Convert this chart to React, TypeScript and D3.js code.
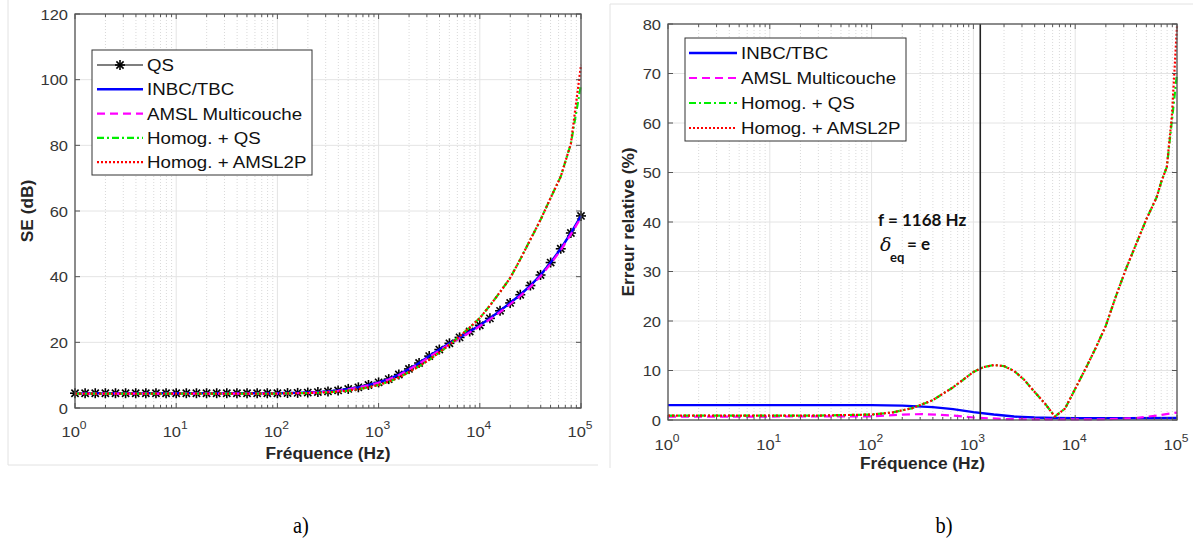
import React from 'react';
import * as d3 from 'd3';

// ---------- DATA ----------
const SE_FREQ = [
  1, 1.259, 1.585, 1.995, 2.512, 3.162, 3.981, 5.012, 6.31, 7.943,
  10, 12.59, 15.85, 19.95, 25.12, 31.62, 39.81, 50.12, 63.1, 79.43,
  100, 125.9, 158.5, 199.5, 251.2, 316.2, 398.1, 501.2, 631, 794.3,
  1000, 1259, 1585, 1995, 2512, 3162, 3981, 5012, 6310, 7943,
  10000, 12589, 15849, 19953, 25119, 31623, 39811, 50119, 63096, 79433, 100000,
];
const SE_QS = [
  4.5, 4.5, 4.5, 4.5, 4.5, 4.5, 4.5, 4.5, 4.5, 4.5,
  4.5, 4.5, 4.5, 4.5, 4.5, 4.5, 4.5, 4.5, 4.5, 4.5,
  4.5, 4.55, 4.6, 4.7, 4.85, 5.05, 5.35, 5.8, 6.3, 7.0,
  7.8, 8.8, 10.2, 11.9, 13.7, 15.8, 17.8, 19.7, 21.5, 23.3,
  25.2, 27.3, 29.6, 32.0, 34.5, 37.3, 40.5, 44.3, 48.5, 53.3, 58.5,
];
const SE_INBC = [
  4.5, 4.5, 4.5, 4.5, 4.5, 4.5, 4.5, 4.5, 4.5, 4.5,
  4.5, 4.5, 4.5, 4.5, 4.5, 4.5, 4.5, 4.5, 4.5, 4.5,
  4.5, 4.55, 4.6, 4.7, 4.85, 5.05, 5.35, 5.8, 6.3, 7.0,
  7.8, 8.8, 10.2, 11.9, 13.7, 15.8, 17.8, 19.7, 21.5, 23.3,
  25.2, 27.3, 29.6, 32.0, 34.5, 37.3, 40.5, 44.3, 48.5, 53.3, 58.5,
];
const SE_AMSL = [
  4.4, 4.4, 4.4, 4.4, 4.4, 4.4, 4.4, 4.4, 4.4, 4.4,
  4.4, 4.4, 4.4, 4.4, 4.4, 4.4, 4.4, 4.4, 4.4, 4.4,
  4.4, 4.45, 4.5, 4.6, 4.75, 4.95, 5.25, 5.7, 6.2, 6.9,
  7.7, 8.7, 10.0, 11.7, 13.5, 15.5, 17.5, 19.4, 21.2, 23.0,
  24.9, 27.0, 29.2, 31.6, 34.1, 36.9, 40.1, 43.9, 48.1, 52.9, 58.0,
];
const SE_HOMOG_QS = [
  4.4, 4.4, 4.4, 4.4, 4.4, 4.4, 4.4, 4.4, 4.4, 4.4,
  4.4, 4.4, 4.4, 4.4, 4.4, 4.4, 4.4, 4.4, 4.4, 4.4,
  4.4, 4.45, 4.5, 4.55, 4.65, 4.8, 5.0, 5.3, 5.75, 6.3,
  7.0, 8.0, 9.3, 10.9, 12.7, 14.7, 16.9, 19.3, 21.8, 24.5,
  27.4, 31.2, 35.3, 39.6, 45.3, 51.3, 57.3, 64.0, 70.5, 80.5, 98.5,
];
const SE_HOMOG_AMSL2P = [
  4.4, 4.4, 4.4, 4.4, 4.4, 4.4, 4.4, 4.4, 4.4, 4.4,
  4.4, 4.4, 4.4, 4.4, 4.4, 4.4, 4.4, 4.4, 4.4, 4.4,
  4.4, 4.45, 4.5, 4.55, 4.65, 4.8, 5.0, 5.3, 5.75, 6.3,
  7.0, 8.0, 9.3, 10.9, 12.7, 14.7, 16.9, 19.3, 21.8, 24.5,
  27.4, 31.2, 35.3, 39.6, 45.3, 51.3, 57.3, 64.0, 70.5, 80.5, 104.5,
];

const ERR_H_FREQ = [
  1, 10, 31.6, 100, 158, 251, 398, 631, 1000, 1259, 1585, 1995, 2512, 3162, 3981,
  5012, 6310, 7943, 10000, 12589, 15849, 19953, 25119, 31623, 39811, 50119, 63096,
  70795, 79433, 89125, 100000,
];
const ERR_HOMOG_QS = [
  0.9, 0.9, 0.9, 1.1, 1.5, 2.4, 4.0, 6.6, 9.7, 10.7, 11.1, 10.9, 9.9, 8.1, 5.7,
  3.4, 0.7, 2.3, 6.3, 10.3, 14.5, 19.0, 25.0, 30.6, 35.6, 40.6, 45.0,
  48.4, 51.1, 60.5, 70.0,
];
const ERR_HOMOG_AMSL2P = [
  0.9, 0.9, 0.9, 1.1, 1.5, 2.4, 4.0, 6.6, 9.7, 10.7, 11.1, 10.9, 9.9, 8.1, 5.7,
  3.4, 0.7, 2.3, 6.3, 10.3, 14.5, 19.0, 25.0, 30.6, 35.6, 40.6, 45.0,
  48.4, 51.1, 61.5, 79.5,
];
const ERR_INBC_FREQ = [1, 10, 100, 200, 398, 631, 1000, 1585, 2512, 3981, 6310, 10000, 31623, 100000];
const ERR_INBC = [3.0, 3.0, 3.0, 2.9, 2.6, 2.2, 1.6, 1.1, 0.7, 0.5, 0.4, 0.35, 0.35, 0.4];
const ERR_AMSL_FREQ = [1, 10, 100, 200, 316, 631, 1000, 1995, 6310, 19953, 39811, 63096, 100000];
const ERR_AMSL = [0.7, 0.7, 0.75, 1.1, 1.2, 0.9, 0.5, 0.2, 0.1, 0.15, 0.4, 0.9, 1.5];

const X_TICK_EXP = [0, 1, 2, 3, 4, 5];
const SE_Y_TICKS = [0, 20, 40, 60, 80, 100, 120];
const ERR_Y_TICKS = [0, 10, 20, 30, 40, 50, 60, 70, 80];
const F_MARK = 1168;

const LEGEND_A = ['QS', 'INBC/TBC', 'AMSL Multicouche', 'Homog. + QS', 'Homog. + AMSL2P'];
const LEGEND_B = ['INBC/TBC', 'AMSL Multicouche', 'Homog. + QS', 'Homog. + AMSL2P'];

// ---------- STYLES ----------
type Sty = { color: string; width: number; dash?: string; star?: boolean };
const S_QS: Sty = { color: '#000000', width: 1.1, star: true };
const S_INBC: Sty = { color: '#0000ff', width: 2.4 };
const S_AMSL: Sty = { color: '#ff00ff', width: 2.2, dash: '8,5' };
const S_HQS: Sty = { color: '#00ee00', width: 2.2, dash: '7,3,2,3' };
const S_HAM: Sty = { color: '#ff0000', width: 2.2, dash: '2,2' };

const SX = 1.1;
const FONT = '"Liberation Sans", Arial, sans-serif';

function T(props: any) {
  const { x, y, rotate, size = 14, weight = 'normal', fill = '#333', anchor = 'start', sx = SX, family = FONT, children } = props;
  return (
    <text
      transform={`translate(${x},${y})${rotate ? ' rotate(-90)' : ''} scale(${sx},1)`}
      fontSize={size}
      fontWeight={weight}
      fill={fill}
      textAnchor={anchor}
      fontFamily={family}
    >
      {children}
    </text>
  );
}

function Star({ x, y, r = 5 }: { x: number; y: number; r?: number }) {
  const d = r * 0.72;
  return (
    <g stroke="#000" strokeWidth={1.6}>
      <line x1={x - r} y1={y} x2={x + r} y2={y} />
      <line x1={x} y1={y - r} x2={x} y2={y + r} />
      <line x1={x - d} y1={y - d} x2={x + d} y2={y + d} />
      <line x1={x - d} y1={y + d} x2={x + d} y2={y - d} />
    </g>
  );
}

type Series = { f: number[]; v: number[]; sty: Sty };

function Panel(props: {
  x0: number; x1: number; y0: number; y1: number;
  yMax: number; yTicks: number[]; series: Series[];
  yLabel: string; yLabelX: number; xLabelY: number; xTickY: number;
  legend: { items: string[]; styles: Sty[]; x: number; y: number; w: number; h: number; dy: number; first: number; lx0: number; lx1: number; tx: number };
  children?: any;
}) {
  const { x0, x1, y0, y1, yMax, yTicks, series, legend } = props;
  const xs = d3.scaleLog().domain([1, 1e5]).range([x0, x1]);
  const ys = d3.scaleLinear().domain([0, yMax]).range([y1, y0]);
  const minor: number[] = [];
  for (let e = 0; e < 5; e++) for (let m = 2; m <= 9; m++) minor.push(m * Math.pow(10, e));
  const line = d3.line<[number, number]>().x((d) => xs(d[0])).y((d) => ys(d[1]));
  const axisCol = '#555';
  return (
    <g>
      {/* grid */}
      {minor.map((m, i) => (
        <line key={'mg' + i} x1={xs(m)} x2={xs(m)} y1={y0} y2={y1} stroke="#cfcfcf" strokeWidth={0.8} strokeDasharray="1,2" />
      ))}
      {X_TICK_EXP.map((e) => (
        <line key={'xg' + e} x1={xs(Math.pow(10, e))} x2={xs(Math.pow(10, e))} y1={y0} y2={y1} stroke="#e4e4e4" strokeWidth={1} />
      ))}
      {yTicks.map((t) => (
        <line key={'yg' + t} x1={x0} x2={x1} y1={ys(t)} y2={ys(t)} stroke="#e4e4e4" strokeWidth={1} />
      ))}
      {/* series */}
      {series.map((s, i) => (
        <g key={'s' + i}>
          <path
            d={line(s.f.map((f, j) => [f, s.v[j]] as [number, number])) || ''}
            fill="none"
            stroke={s.sty.color}
            strokeWidth={s.sty.width}
            strokeDasharray={s.sty.dash}
          />
          {s.sty.star && s.f.map((f, j) => <Star key={j} x={xs(f)} y={ys(s.v[j])} />)}
        </g>
      ))}
      {props.children ? props.children(xs, ys) : null}
      {/* axes box */}
      <rect x={x0} y={y0} width={x1 - x0} height={y1 - y0} fill="none" stroke={axisCol} strokeWidth={1.3} />
      {/* ticks */}
      {X_TICK_EXP.map((e) => {
        const x = xs(Math.pow(10, e));
        return (
          <g key={'xt' + e}>
            <line x1={x} x2={x} y1={y1} y2={y1 - 5} stroke={axisCol} />
            <line x1={x} x2={x} y1={y0} y2={y0 + 5} stroke={axisCol} />
          </g>
        );
      })}
      {minor.map((m, i) => (
        <g key={'mt' + i}>
          <line x1={xs(m)} x2={xs(m)} y1={y1} y2={y1 - 3} stroke={axisCol} />
          <line x1={xs(m)} x2={xs(m)} y1={y0} y2={y0 + 3} stroke={axisCol} />
        </g>
      ))}
      {yTicks.map((t) => (
        <g key={'yt' + t}>
          <line x1={x0} x2={x0 + 5} y1={ys(t)} y2={ys(t)} stroke={axisCol} />
          <line x1={x1} x2={x1 - 5} y1={ys(t)} y2={ys(t)} stroke={axisCol} />
        </g>
      ))}
      {/* tick labels */}
      {yTicks.map((t) => (
        <T key={'yl' + t} x={x0 - 7} y={ys(t) + 5.5} anchor="end" size={15} fill="#363636">{t}</T>
      ))}
      {X_TICK_EXP.map((e) => (
        <T key={'xl' + e} x={xs(Math.pow(10, e)) - 1} y={props.xTickY} anchor="middle" size={15} fill="#363636">
          10<tspan dy={-8} fontSize={11}>{e}</tspan>
        </T>
      ))}
      {/* axis labels */}
      <T x={(x0 + x1) / 2} y={props.xLabelY} anchor="middle" size={16.5} sx={1.05} weight="bold" fill="#262626">Fréquence (Hz)</T>
      <T x={props.yLabelX} y={(y0 + y1) / 2} rotate anchor="middle" size={16.5} sx={1.05} weight="bold" fill="#262626">{props.yLabel}</T>
      {/* legend */}
      <g>
        <rect x={legend.x} y={legend.y} width={legend.w} height={legend.h} fill="#fff" stroke="#333" strokeWidth={1} />
        {legend.items.map((name, i) => {
          const sty = legend.styles[i];
          const y = legend.first + i * legend.dy;
          return (
            <g key={'lg' + i}>
              <line x1={legend.lx0} x2={legend.lx1} y1={y} y2={y} stroke={sty.color} strokeWidth={sty.width} strokeDasharray={sty.dash} />
              {sty.star && <Star x={(legend.lx0 + legend.lx1) / 2} y={y} />}
              <T x={legend.tx} y={y + 6} size={17} fill="#111">{name}</T>
            </g>
          );
        })}
      </g>
    </g>
  );
}

export default function App() {
  const seSeries: Series[] = [
    { f: SE_FREQ, v: SE_QS, sty: S_QS },
    { f: SE_FREQ, v: SE_INBC, sty: S_INBC },
    { f: SE_FREQ, v: SE_AMSL, sty: S_AMSL },
    { f: SE_FREQ, v: SE_HOMOG_QS, sty: S_HQS },
    { f: SE_FREQ, v: SE_HOMOG_AMSL2P, sty: S_HAM },
  ];
  const errSeries: Series[] = [
    { f: ERR_INBC_FREQ, v: ERR_INBC, sty: S_INBC },
    { f: ERR_AMSL_FREQ, v: ERR_AMSL, sty: S_AMSL },
    { f: ERR_H_FREQ, v: ERR_HOMOG_QS, sty: S_HQS },
    { f: ERR_H_FREQ, v: ERR_HOMOG_AMSL2P, sty: S_HAM },
  ];
  return (
    <svg width={1196} height={545} style={{ position: 'absolute', left: 0, top: 0, background: '#fff' }}>
      <rect x={0} y={0} width={1196} height={545} fill="#fff" />
      {/* panel frames */}
      <line x1={8} x2={8} y1={0} y2={465} stroke="#e2e2e2" />
      <line x1={8} x2={598} y1={465} y2={465} stroke="#e2e2e2" />
      <line x1={610} x2={1193} y1={4} y2={4} stroke="#e2e2e2" />
      <line x1={610} x2={610} y1={4} y2={468} stroke="#e2e2e2" />

      <Panel
        x0={75} x1={581} y0={14} y1={408} yMax={120} yTicks={SE_Y_TICKS} series={seSeries}
        yLabel="SE (dB)" yLabelX={33} xLabelY={459} xTickY={437}
        legend={{ items: LEGEND_A, styles: [S_QS, S_INBC, S_AMSL, S_HQS, S_HAM], x: 92, y: 50, w: 220, h: 125, dy: 24.3, first: 65, lx0: 97, lx1: 143, tx: 147 }}
      />
      <Panel
        x0={668} x1={1177} y0={24} y1={420} yMax={80} yTicks={ERR_Y_TICKS} series={errSeries}
        yLabel="Erreur relative (%)" yLabelX={634} xLabelY={469} xTickY={450}
        legend={{ items: LEGEND_B, styles: [S_INBC, S_AMSL, S_HQS, S_HAM], x: 685, y: 38, w: 221, h: 103, dy: 25, first: 53, lx0: 689, lx1: 737, tx: 741 }}
      >
        {(xs: any, ys: any) => (
          <g>
            <line x1={xs(F_MARK)} x2={xs(F_MARK)} y1={ys(80)} y2={ys(0)} stroke="#222" strokeWidth={1.6} />
            <text x={878} y={226} fontFamily="Lato, 'Open Sans', sans-serif" fontWeight="bold" fontSize={17} fill="#111">f = {F_MARK} Hz</text>
            <text x={880} y={251} fontFamily="'DejaVu Serif', serif" fontStyle="italic" fontSize={19} fill="#111">δ</text>
            <text x={890} y={262} fontFamily="Lato, sans-serif" fontWeight="bold" fontSize={13} fill="#111">eq</text>
            <text x={907} y={250} fontFamily="Lato, sans-serif" fontWeight="bold" fontSize={17} fill="#111">= e</text>
          </g>
        )}
      </Panel>

      <T x={301} y={533} anchor="middle" size={24} sx={0.85} fill="#000" family="'Liberation Serif', 'Times New Roman', serif">a)</T>
      <T x={944} y={533} anchor="middle" size={24} sx={0.85} fill="#000" family="'Liberation Serif', 'Times New Roman', serif">b)</T>
    </svg>
  );
}
